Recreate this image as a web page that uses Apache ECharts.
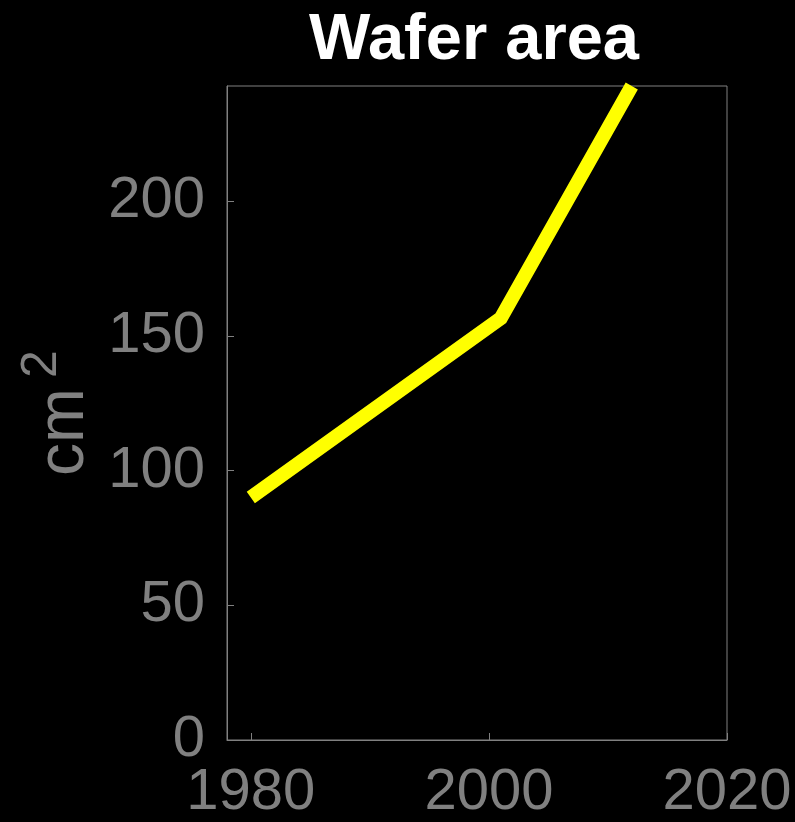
<!DOCTYPE html>
<html>
<head>
<meta charset="utf-8">
<script src="https://cdn.jsdelivr.net/npm/echarts@6/dist/echarts.min.js"></script>
<style>html,body{margin:0;padding:0;background:#000;}#c{width:795px;height:822px;}</style>
</head>
<body>
<div id="c"></div>
<script>
const years = [1980, 2001, 2012];
const area = [90, 156.5, 242.7];
const xTicks = [1980, 2000, 2020];
const yTicks = [0, 50, 100, 150, 200];

const gray = '#808080';
const font = 'Liberation Sans, Arial, sans-serif';
const chart = echarts.init(document.getElementById('c'), null, {renderer: 'canvas'});
chart.setOption({
  backgroundColor: '#000',
  animation: false,
  title: {
    text: 'Wafer area',
    left: 469, top: 4, textAlign: 'center',
    textStyle: {color: '#fff', fontSize: 65, fontWeight: 'bold', fontFamily: font}
  },
  grid: {left: 227, right: 68, top: 86, bottom: 82, containLabel: false, outerBoundsMode: 'none', show: true, borderColor: gray, borderWidth: 1, backgroundColor: '#000'},
  xAxis: {
    type: 'value', min: 1978, max: 2020,
    axisLine: {show: true, lineStyle: {color: gray, width: 1}},
    axisTick: {show: true, inside: true, length: 7, customValues: xTicks, lineStyle: {color: gray}},
    axisLabel: {customValues: xTicks, color: gray, fontSize: 58, margin: 24, fontFamily: font, formatter: v => String(v)},
    splitLine: {show: false}
  },
  yAxis: {
    type: 'value', min: 0, max: 242.7,
    name: '{a|cm}{b|2}',
    nameLocation: 'middle', nameRotate: 90, nameGap: 112,
    nameTextStyle: {
      rich: {
        a: {color: gray, fontSize: 66, fontFamily: font},
        b: {color: gray, fontSize: 50, fontFamily: font, verticalAlign: 'top', padding: [0,0,44,10]}
      }
    },
    axisLine: {show: true, lineStyle: {color: gray, width: 1}},
    axisTick: {show: true, inside: true, length: 7, customValues: yTicks, lineStyle: {color: gray}},
    axisLabel: {customValues: yTicks, color: gray, fontSize: 58, margin: 22, fontFamily: font, formatter: v => String(v)},
    splitLine: {show: false}
  },
  series: [{
    type: 'line',
    data: years.map((y, i) => [y, area[i]]),
    showSymbol: false,
    lineStyle: {color: '#ffff00', width: 14, cap: 'butt', join: 'miter'},
    clip: false
  }]
});
</script>
</body>
</html>
